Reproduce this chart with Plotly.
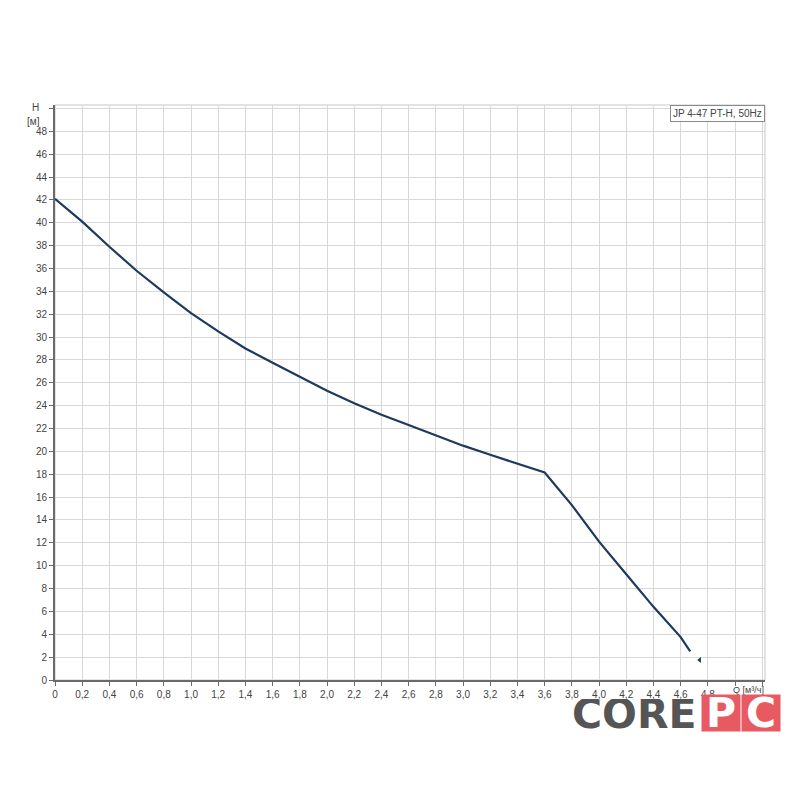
import plotly.graph_objects as go

# Data
q_vals = [0, 0.2, 0.4, 0.6, 0.8, 1.0, 1.2, 1.4, 1.6, 1.8, 2.0, 2.2, 2.4, 2.6, 2.8,
          3.0, 3.2, 3.4, 3.6, 3.8, 4.0, 4.2, 4.4, 4.6, 4.67]
h_vals = [42.1, 40.1, 37.9, 35.8, 33.9, 32.1, 30.5, 29.0, 27.75, 26.5, 25.3, 24.2, 23.2,
          22.3, 21.4, 20.5, 19.7, 18.9, 18.15, 15.3, 12.1, 9.25, 6.4, 3.75, 2.5]
end_mark_q = [4.74]
end_mark_h = [1.75]
x_tickvals = [round(i * 0.2, 1) for i in range(25)]
x_ticktext = ["0"] + [f"{v:.1f}".replace(".", ",") for v in x_tickvals[1:]]
y_tickvals = list(range(0, 50, 2))
y_ticktext = [str(v) for v in y_tickvals]
title_text = "JP 4-47 PT-H, 50Hz"

fig = go.Figure()
fig.add_trace(go.Scatter(x=q_vals, y=h_vals, mode="lines",
                         line=dict(color="#1d3a5e", width=2.2), hoverinfo="skip",
                         showlegend=False))
fig.add_trace(go.Scatter(x=end_mark_q, y=end_mark_h, mode="markers",
                         marker=dict(symbol="triangle-left", size=5, color="#1d3a5e"),
                         hoverinfo="skip", showlegend=False))

tickfont = dict(family="Liberation Sans, Arial, sans-serif", size=10, color="#444")

# page body has an 8px margin, so offsets are shifted accordingly
fig.update_layout(
    width=800, height=800,
    paper_bgcolor="white", plot_bgcolor="white",
    margin=dict(l=47, r=43, t=97, b=128),
    xaxis=dict(range=[0, 5.22], tickvals=x_tickvals + [5.0, 5.2], ticktext=x_ticktext + ["", ""],
               showgrid=True, gridcolor="#d8d8d8", gridwidth=1,
               showline=True, linecolor="#6a6a6a", linewidth=2,
               ticks="outside", ticklen=4, tickcolor="#6a6a6a",
               tickfont=tickfont, zeroline=False, fixedrange=True),
    yaxis=dict(range=[0, 50.3], tickvals=y_tickvals + [50], ticktext=y_ticktext + [""],
               showgrid=True, gridcolor="#d8d8d8", gridwidth=1,
               showline=True, linecolor="#6a6a6a", linewidth=2,
               ticks="outside", ticklen=4, tickcolor="#6a6a6a",
               tickfont=tickfont, zeroline=False, fixedrange=True),
    shapes=[dict(type="rect", xref="paper", yref="paper", x0=0, y0=0, x1=1, y1=1,
                 line=dict(color="#c8c8c8", width=1), layer="below")],
)

annotations = [
    dict(text="H", xref="paper", yref="paper", x=-0.028, y=(680 - 107) / 575,
         showarrow=False, font=tickfont, xanchor="center", yanchor="middle"),
    dict(text="[м]", xref="paper", yref="paper", x=-0.03, y=(680 - 121) / 575,
         showarrow=False, font=tickfont, xanchor="center", yanchor="middle"),
    dict(text="Q [м³/ч]", xref="paper", yref="paper", x=(731 - 55) / 710, y=-0.017,
         showarrow=False, font=dict(family="Liberation Sans, Arial, sans-serif", size=9, color="#444"),
         xanchor="left", yanchor="middle"),
    dict(text=title_text, xref="paper", yref="paper", x=1, y=1, xanchor="right", yanchor="top",
         showarrow=False, bgcolor="white", bordercolor="#8a8a8a", borderwidth=1, borderpad=2,
         font=dict(family="Liberation Sans, Arial, sans-serif", size=10, color="#444")),
    dict(text="<b>CORE</b>", xref="paper", yref="paper", x=(634 - 55) / 710, y=(680 - 714) / 575,
         showarrow=False, xanchor="center", yanchor="middle", height=30,
         font=dict(family="DejaVu Sans, sans-serif", size=41, color="#555555")),
    dict(text="<b>P</b>", xref="paper", yref="paper", x=(721 - 55) / 710, y=(680 - 713) / 575,
         showarrow=False, xanchor="center", yanchor="middle", bgcolor="#e85a61",
         width=38, height=36, borderpad=0,
         font=dict(family="DejaVu Sans, sans-serif", size=41, color="white")),
    dict(text="<b>C</b>", xref="paper", yref="paper", x=(761 - 55) / 710, y=(680 - 713) / 575,
         showarrow=False, xanchor="center", yanchor="middle", bgcolor="#e85a61",
         width=38, height=36, borderpad=0,
         font=dict(family="DejaVu Sans, sans-serif", size=41, color="white")),
]
fig.update_layout(annotations=annotations)

fig.write_html("out.html")
